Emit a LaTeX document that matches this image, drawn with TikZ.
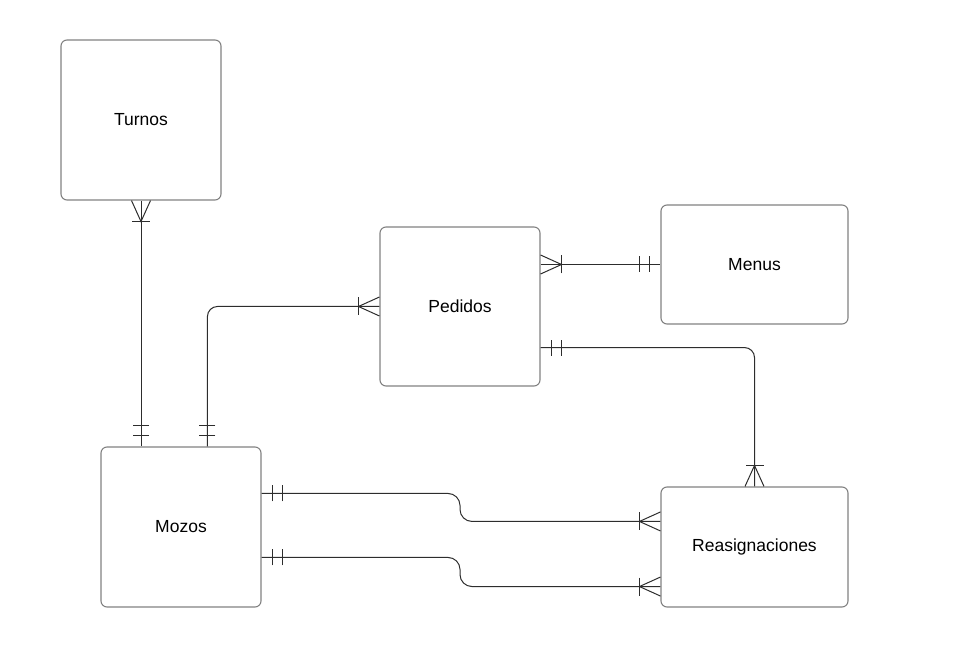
\documentclass[tikz,border=0pt]{standalone}
\usepackage{fontspec}
\setmainfont{Liberation Sans}
\usetikzlibrary{calc}
\definecolor{boxline}{RGB}{130,130,130}
\definecolor{connline}{RGB}{45,45,45}
\tikzset{
  x=1pt, y=1pt,
  entity/.style={draw=boxline, line width=1.1pt, rounded corners=6pt, fill=white,
    inner sep=0pt, font=\fontsize{17.5}{20}\selectfont},
  conn/.style={draw=connline, line width=1pt},
  many/.pic={\draw[conn] (0,9.5) -- (21,0) -- (0,-9.5); \draw[conn] (21,-9) -- (21,9);},
  oneone/.pic={\draw[conn] (11,-8) -- (11,8) (21,-8) -- (21,8);}
}
\begin{document}
\begin{tikzpicture}
\useasboundingbox (0,0) rectangle (959,656);

% entities
\node[entity, minimum width=160, minimum height=160] (turnos) at (141,536) {Turnos};
\node[entity, minimum width=160, minimum height=159] (pedidos) at (460,349.5) {Pedidos};
\node[entity, minimum width=187, minimum height=119] (menus) at (754.5,391.5) {Menus};
\node[entity, minimum width=160, minimum height=160] (mozos) at (181,129) {Mozos};
\node[entity, minimum width=187, minimum height=120] (reasig) at (754.5,109) {Reasignaciones};

% anchor points for connectors
\coordinate (mzA) at (turnos.south |- mozos.north);
\coordinate (mzB) at ($(mozos.north west)+(107,0)$);
\coordinate (pdA) at (pedidos.east |- menus.west);
\coordinate (pdB) at ($(pedidos.south east)+(0,39)$);
\coordinate (mzC) at ($(mozos.north east)+(0,-47)$);
\coordinate (mzD) at ($(mozos.north east)+(0,-111)$);
\coordinate (rsA) at ($(reasig.north west)+(0,-35)$);
\coordinate (rsB) at ($(reasig.south west)+(0,21)$);

% Turnos -- Mozos
\draw[conn] (turnos.south) -- (mzA);
\pic[rotate=-90] at (turnos.south) {many};
\pic[rotate=90] at (mzA) {oneone};

% Mozos -- Pedidos
\draw[conn, rounded corners=10pt] (mzB) |- (pedidos.west);
\pic[rotate=90] at (mzB) {oneone};
\pic[rotate=180] at (pedidos.west) {many};

% Pedidos -- Menus
\draw[conn] (pdA) -- (menus.west);
\pic at (pdA) {many};
\pic[rotate=180] at (menus.west) {oneone};

% Pedidos -- Reasignaciones
\draw[conn, rounded corners=10pt] (pdB) -| (reasig.north);
\pic at (pdB) {oneone};
\pic[rotate=90] at (reasig.north) {many};

% Mozos -- Reasignaciones (two links)
\draw[conn, rounded corners=12pt] (mzC) -- (460,0 |- mzC) -- (460,0 |- rsA) -- (rsA);
\pic at (mzC) {oneone};
\pic[rotate=180] at (rsA) {many};

\draw[conn, rounded corners=12pt] (mzD) -- (460,0 |- mzD) -- (460,0 |- rsB) -- (rsB);
\pic at (mzD) {oneone};
\pic[rotate=180] at (rsB) {many};
\end{tikzpicture}
\end{document}
